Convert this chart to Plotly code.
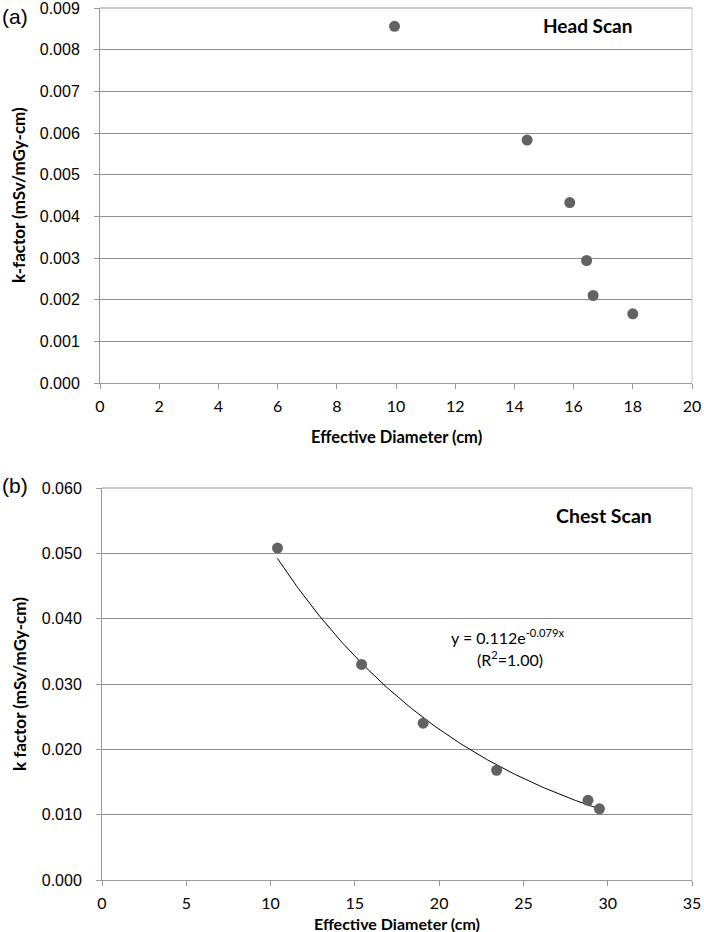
import numpy as np
import plotly.graph_objects as go

# ---- data ----
head_diameter = [9.95, 14.43, 15.87, 16.44, 16.66, 18.0]
head_k = [0.00856, 0.00583, 0.00433, 0.00294, 0.00210, 0.00166]

chest_diameter = [10.41, 15.40, 19.05, 23.41, 28.83, 29.51]
chest_k = [0.0508, 0.0330, 0.0240, 0.0168, 0.0122, 0.0109]

# exponential trendline shown on the chest chart: y = a * exp(b x)
fit_a = 0.112
fit_b = -0.079

head_yticks = [0.000, 0.001, 0.002, 0.003, 0.004, 0.005, 0.006, 0.007, 0.008, 0.009]
head_xticks = [0, 2, 4, 6, 8, 10, 12, 14, 16, 18, 20]
chest_yticks = [0.000, 0.010, 0.020, 0.030, 0.040, 0.050, 0.060]
chest_xticks = [0, 5, 10, 15, 20, 25, 30, 35]

trend_x = np.linspace(min(chest_diameter), max(chest_diameter), 200)
trend_y = fit_a * np.exp(fit_b * trend_x)

W, H = 704, 932
MARK = "#626262"
GRID = "#8f8f8f"
AXIS = "#9a9a9a"
CAL = "Lato, 'Open Sans', sans-serif"
ARI = "'Liberation Sans', Arial, sans-serif"

fig = go.Figure()
fig.add_trace(go.Scatter(x=head_diameter, y=head_k, mode="markers",
                         marker=dict(size=11, color=MARK), xaxis="x", yaxis="y",
                         showlegend=False))
fig.add_trace(go.Scatter(x=trend_x, y=trend_y, mode="lines",
                         line=dict(color="black", width=1), xaxis="x2", yaxis="y2",
                         showlegend=False))
fig.add_trace(go.Scatter(x=chest_diameter, y=chest_k, mode="markers",
                         marker=dict(size=11, color=MARK), xaxis="x2", yaxis="y2",
                         showlegend=False))

def px_x(p):
    return p / W

def px_y(p):
    return 1 - p / H

top_dom_x = [px_x(100), px_x(692)]
top_dom_y = [px_y(383), px_y(8)]
bot_dom_x = [px_x(102), px_x(692)]
bot_dom_y = [px_y(880), px_y(488)]

xcommon = dict(showgrid=False, zeroline=False, showline=True, linecolor=AXIS, linewidth=1,
               ticks="outside", ticklen=5, tickcolor=AXIS, automargin=False,
               ticklabeloverflow="allow",
               tickfont=dict(family=CAL, size=16, color="black"), ticklabelstandoff=4)
ycommon = dict(showgrid=True, gridcolor=GRID, gridwidth=1, zeroline=False, showline=True,
               linecolor=AXIS, linewidth=1, ticks="outside", ticklen=5, tickcolor=AXIS,
               automargin=False, ticklabeloverflow="allow",
               tickformat=".3f", tickfont=dict(family=ARI, size=16, color="black"),
               ticklabelstandoff=11)

fig.update_layout(
    template="none",
    width=W, height=H, margin=dict(l=0, r=0, t=0, b=0, autoexpand=False),
    paper_bgcolor="white", plot_bgcolor="white",
    xaxis=dict(domain=top_dom_x, range=[0, 20.0001], tickvals=head_xticks, anchor="y", **xcommon),
    yaxis=dict(domain=top_dom_y, range=[0, 0.0090001], tickvals=head_yticks, anchor="x", **ycommon),
    xaxis2=dict(domain=bot_dom_x, range=[0, 35.0001], tickvals=chest_xticks, anchor="y2", **xcommon),
    yaxis2=dict(domain=bot_dom_y, range=[0, 0.0600001], tickvals=chest_yticks, anchor="x2", **ycommon),
)

# light frame on right edges, grid-coloured top edges
for xr, yr in (("x domain", "y domain"), ("x2 domain", "y2 domain")):
    fig.add_shape(type="line", xref=xr, yref=yr, x0=1, x1=1, y0=0, y1=1,
                  line=dict(color="#c8c8c8", width=1))
    fig.add_shape(type="line", xref=xr, yref=yr, x0=0, x1=1, y0=1, y1=1,
                  line=dict(color=GRID, width=1))

ann = []
ann.append(dict(text="<b>Effective Diameter (cm)</b>", x=0.5, y=px_y(437), xref="x domain", yref="paper",
                showarrow=False, font=dict(family=CAL, size=16.5, color="black"), yanchor="middle"))
ann.append(dict(text="<b>Effective Diameter (cm)</b>", x=0.5, y=px_y(923), xref="x2 domain", yref="paper",
                showarrow=False, font=dict(family=CAL, size=16, color="black"), yanchor="middle"))
ann.append(dict(text="<b>k-factor (mSv/mGy-cm)</b>", x=px_x(19), y=px_y(195), xref="paper", yref="paper",
                textangle=-90, showarrow=False, font=dict(family=CAL, size=17, color="black"),
                xanchor="center", yanchor="middle"))
ann.append(dict(text="<b>k factor (mSv/mGy-cm)</b>", x=px_x(19), y=px_y(684), xref="paper", yref="paper",
                textangle=-90, showarrow=False, font=dict(family=CAL, size=17, color="black"),
                xanchor="center", yanchor="middle"))
ann.append(dict(text="(a)", x=px_x(15), y=px_y(17), xref="paper", yref="paper", showarrow=False,
                font=dict(family=ARI, size=21, color="black"), xanchor="center", yanchor="middle"))
ann.append(dict(text="(b)", x=px_x(15), y=px_y(485), xref="paper", yref="paper", showarrow=False,
                font=dict(family=ARI, size=21, color="black"), xanchor="center", yanchor="middle"))
ann.append(dict(text="<b>Head Scan</b>", x=0.824, y=0.952, xref="x domain", yref="y domain",
                showarrow=False, font=dict(family=CAL, size=19, color="black"),
                xanchor="center", yanchor="middle"))
ann.append(dict(text="<b>Chest Scan</b>", x=0.85, y=0.931, xref="x2 domain", yref="y2 domain",
                showarrow=False, font=dict(family=CAL, size=19.5, color="black"),
                xanchor="center", yanchor="middle"))
ann.append(dict(text=f"y = {fit_a:.3f}e<sup>{fit_b:.3f}x</sup>", x=0.688, y=0.622,
                xref="x2 domain", yref="y2 domain", showarrow=False,
                font=dict(family=CAL, size=16, color="black"), xanchor="center", yanchor="middle"))
ann.append(dict(text="(R<sup>2</sup>=1.00)", x=0.692, y=0.565,
                xref="x2 domain", yref="y2 domain", showarrow=False,
                font=dict(family=CAL, size=16, color="black"), xanchor="center", yanchor="middle"))
fig.update_layout(annotations=ann)

fig.write_html("out.html", config={"displayModeBar": False},
               post_script="document.body.style.margin='0';document.body.style.overflow='hidden';")
